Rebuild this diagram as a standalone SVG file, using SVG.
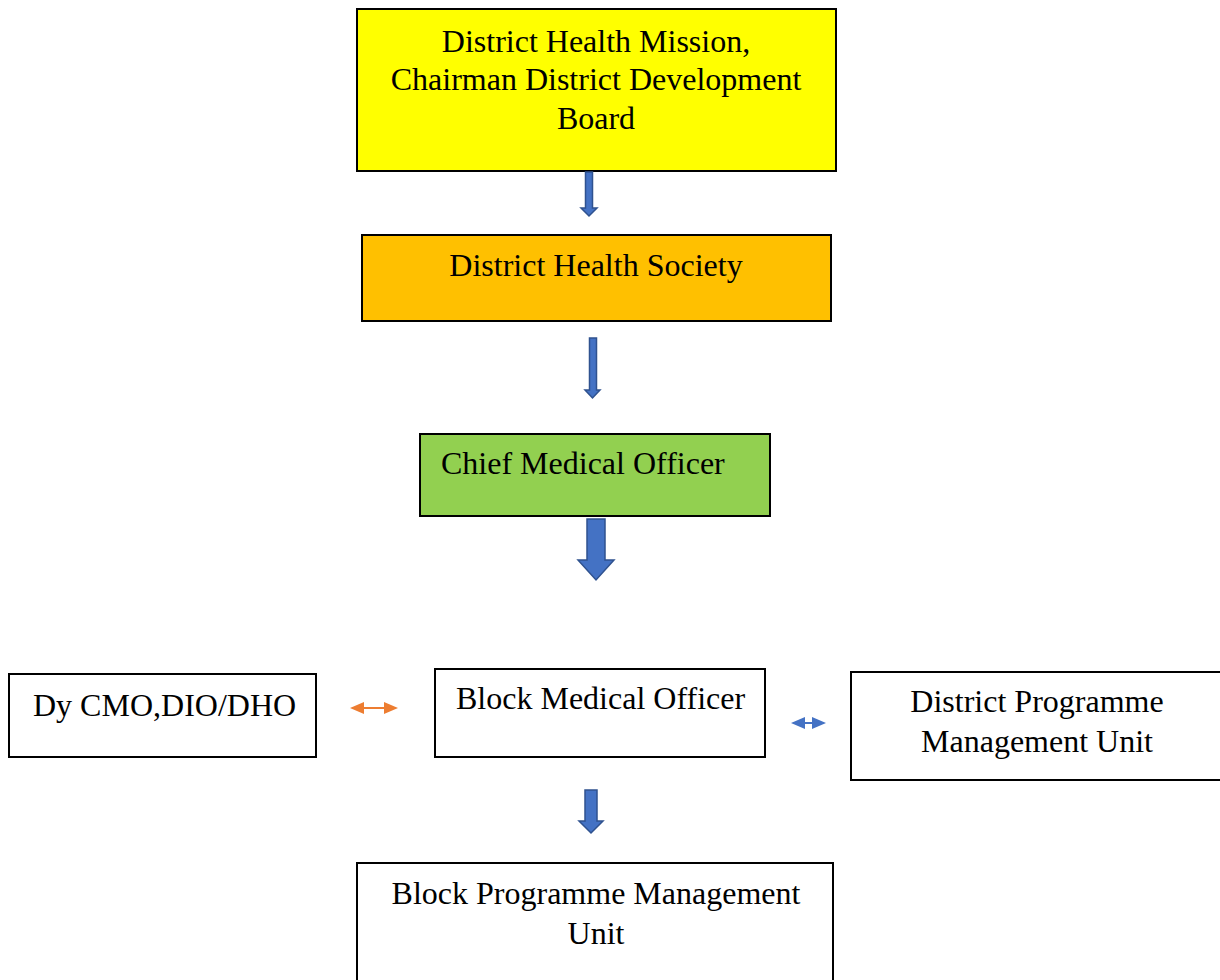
<svg xmlns="http://www.w3.org/2000/svg" width="1220" height="980" viewBox="0 0 1220 980">
<style>
.box{stroke:#000;stroke-width:2}
.t{font-family:"Liberation Serif","Times New Roman",serif;font-size:32px;fill:#000}
.ba{fill:#4472C4;stroke:#2F528F;stroke-width:1.5}
.oa{fill:#ED7D31}
.ol{stroke:#ED7D31;stroke-width:2}
</style>
<rect width="1220" height="980" fill="#fff"/>
<g id="n1">
<rect class="box" x="357" y="9" width="479" height="162" fill="#FFFF00"/>
<text class="t" x="596" y="52" text-anchor="middle">District Health Mission,</text>
<text class="t" x="596" y="90" text-anchor="middle">Chairman District Development</text>
<text class="t" x="596" y="129" text-anchor="middle">Board</text>
</g>
<g id="n2">
<rect class="box" x="362" y="235" width="469" height="86" fill="#FFC000"/>
<text class="t" x="596" y="276" text-anchor="middle">District Health Society</text>
</g>
<g id="n3">
<rect class="box" x="420" y="434" width="350" height="82" fill="#92D050"/>
<text class="t" x="441" y="474">Chief Medical Officer</text>
</g>
<g id="n4">
<rect class="box" x="9" y="674" width="307" height="83" fill="#fff" stroke-width="1.5"/>
<text class="t" x="33" y="716">Dy CMO,DIO/DHO</text>
</g>
<g id="n5">
<rect class="box" x="435" y="669" width="330" height="88" fill="#fff" stroke-width="1.5"/>
<text class="t" x="456" y="709">Block Medical Officer</text>
</g>
<g id="n6">
<rect class="box" x="851" y="672" width="370" height="108" fill="#fff" stroke-width="1.5"/>
<text class="t" x="1037" y="712" text-anchor="middle">District Programme</text>
<text class="t" x="1037" y="752" text-anchor="middle">Management Unit</text>
</g>
<g id="n7">
<rect class="box" x="357" y="863" width="476" height="130" fill="#fff" stroke-width="1.5"/>
<text class="t" x="596" y="904" text-anchor="middle">Block Programme Management</text>
<text class="t" x="596" y="944" text-anchor="middle">Unit</text>
</g>
<g id="connectors">
<polygon class="ba" points="585.5,172 592.5,172 592.5,208 597,208 589,216 581,208 585.5,208"/>
<polygon class="ba" points="589.5,338 596.5,338 596.5,390 600,390 592.5,398 585,390 589.5,390"/>
<polygon class="ba" points="587,519 605,519 605,560 614,560 596,580 578,560 587,560"/>
<polygon class="ba" points="585,790 597,790 597,821 603,821 591,833 579,821 585,821"/>
<polygon class="oa" points="350,708 364,702 364,714"/>
<polygon class="oa" points="398,708 384,702 384,714"/>
<line class="ol" x1="362" y1="708" x2="386" y2="708"/>
<polygon fill="#4472C4" points="791,723 805,717 805,729"/>
<polygon fill="#4472C4" points="826,723 812,717 812,729"/>
<line x1="804" y1="723" x2="813" y2="723" stroke="#4472C4" stroke-width="2"/>
</g>
</svg>
